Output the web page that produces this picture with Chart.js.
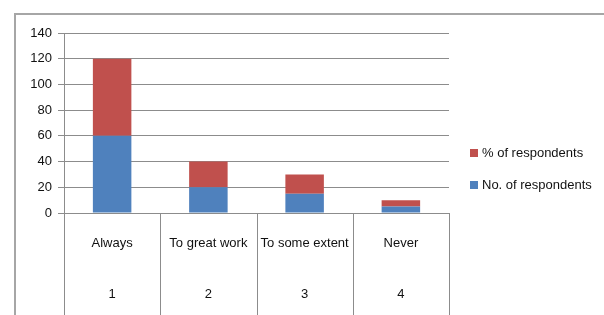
<!DOCTYPE html>
<html><head><meta charset="utf-8">
<style>html,body{margin:0;padding:0;background:#fff;}#wrap{width:604px;height:315px;position:relative;}</style>
<script src="https://cdn.jsdelivr.net/npm/chart.js@4.4.1/dist/chart.umd.min.js"></script>
</head><body><div id="wrap"><canvas id="c" width="604" height="315"></canvas></div>
<script>
const categories = ["Always", "To great work", "To some extent", "Never"];
const categoryNumbers = ["1", "2", "3", "4"];
const noOfRespondents = [60, 20, 15, 5];
const pctOfRespondents = [60, 20, 15, 5];
const yTicks = [0, 20, 40, 60, 80, 100, 120, 140];

const FONT = '"Liberation Sans", Arial, sans-serif';
const GRID = '#8c8c8c';
const TEXT = '#111111';

const extras = {
  id: 'extras',
  beforeDraw(chart) {
    const ctx = chart.ctx;
    ctx.save();
    ctx.strokeStyle = '#a6a6a6';
    ctx.lineWidth = 2;
    ctx.beginPath();
    ctx.moveTo(15, 315); ctx.lineTo(15, 14); ctx.lineTo(604, 14);
    ctx.stroke();
    ctx.restore();
  },
  afterDraw(chart) {
    const ctx = chart.ctx;
    const x = chart.scales.x, ca = chart.chartArea;
    const n = categories.length;
    const step = (ca.right - ca.left) / n;
    ctx.save();
    ctx.strokeStyle = GRID;
    ctx.lineWidth = 1;
    for (let i = 0; i <= n; i++) {
      const px = Math.round(x.getPixelForValue(i) - step / 2) + 0.5;
      ctx.beginPath(); ctx.moveTo(px, ca.bottom); ctx.lineTo(px, 315); ctx.stroke();
    }
    ctx.fillStyle = TEXT;
    ctx.font = '13px ' + FONT;
    ctx.textAlign = 'center';
    ctx.textBaseline = 'middle';
    for (let i = 0; i < n; i++) {
      const px = x.getPixelForValue(i);
      ctx.fillText(categories[i], px, 243);
      ctx.fillText(categoryNumbers[i], px, 294);
    }
    // legend
    const ds = chart.data.datasets;
    const items = [ds[1], ds[0]];
    ctx.textAlign = 'left';
    items.forEach((d, k) => {
      const y = 153 + k * 32;
      ctx.fillStyle = d.backgroundColor;
      ctx.fillRect(470, y - 4, 8, 8);
      ctx.fillStyle = TEXT;
      ctx.fillText(d.label, 482, y);
    });
    ctx.restore();
  }
};

new Chart(document.getElementById('c'), {
  type: 'bar',
  data: {
    labels: categories,
    datasets: [
      { label: 'No. of respondents', data: noOfRespondents, backgroundColor: '#4f81bd', borderWidth: 0 },
      { label: '% of respondents', data: pctOfRespondents, backgroundColor: '#c0504d', borderWidth: 0 }
    ]
  },
  options: {
    responsive: false,
    animation: false,
    events: [],
    layout: { padding: { left: 0, top: 33, right: 155, bottom: 102 } },
    plugins: { legend: { display: false }, tooltip: { enabled: false } },
    datasets: { bar: { barPercentage: 0.4, categoryPercentage: 1.0 } },
    scales: {
      x: {
        stacked: true,
        ticks: { display: false },
        grid: { display: false },
        border: { display: false },
        afterFit(s) { s.height = 0; }
      },
      y: {
        stacked: true,
        min: 0, max: 140,
        afterBuildTicks(s) { s.ticks = yTicks.map(v => ({ value: v })); },
        ticks: { color: TEXT, font: { size: 13, family: FONT }, padding: 6 },
        grid: { color: GRID, tickLength: 6, lineWidth: 1 },
        border: { color: GRID },
        afterFit(s) { s.width = 64; }
      }
    }
  },
  plugins: [extras]
});
</script></body></html>
